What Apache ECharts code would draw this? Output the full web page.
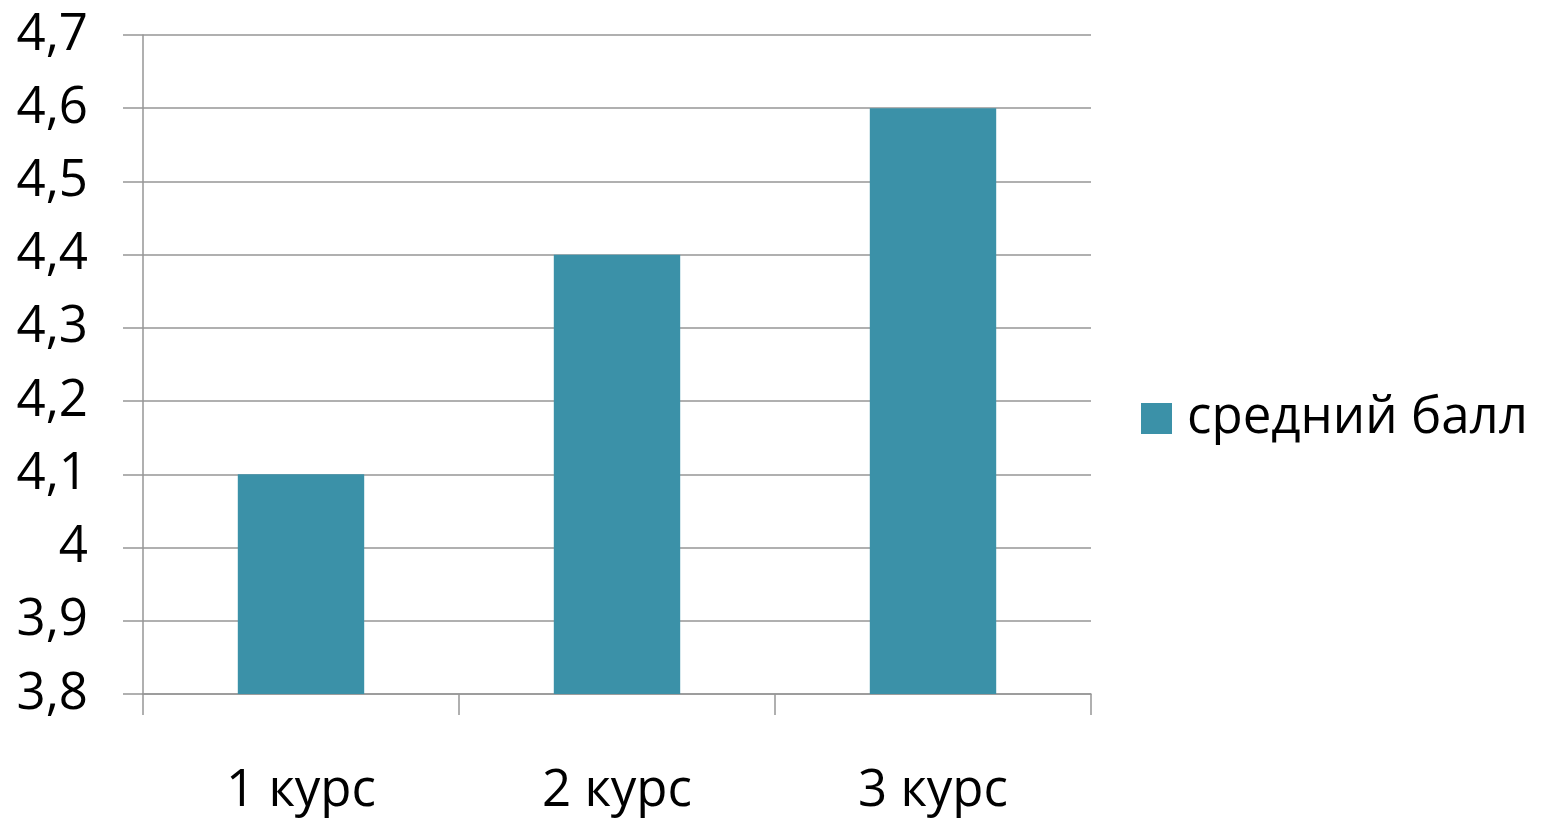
<!DOCTYPE html>
<html>
<head>
<meta charset="utf-8">
<script src="https://cdn.jsdelivr.net/npm/echarts@6/dist/echarts.min.js"></script>
<style>html,body{margin:0;padding:0;background:#fff}#c{width:1549px;height:823px}</style>
</head>
<body>
<div id="c"></div>
<script>
const categories = ['1 курс', '2 курс', '3 курс'];
const seriesName = 'средний балл';
const values = [4.1, 4.4, 4.6];
const yMin = 3.8, yMax = 4.7, yStep = 0.1;

const chart = echarts.init(document.getElementById('c'));
const lineColor = '#969696';
chart.setOption({
  animation: false,
  textStyle: { fontFamily: 'Open Sans' },
  grid: { left: 143, right: 458, top: 35, bottom: 129 },
  legend: {
    data: [seriesName],
    left: 1141, top: 393, padding: 0,
    itemWidth: 31, itemHeight: 31, itemGap: 10,
    icon: 'rect',
    textStyle: { fontSize: 51, color: '#000', fontFamily: 'Open Sans', padding: [0, 0, 0, 10] }
  },
  xAxis: {
    type: 'category',
    data: categories,
    axisLine: { show: true, lineStyle: { color: lineColor, width: 1.5 } },
    axisTick: { show: true, length: 21, lineStyle: { color: lineColor, width: 1.5 } },
    axisLabel: { fontSize: 51, color: '#000', margin: 72, fontFamily: 'Open Sans' }
  },
  yAxis: {
    type: 'value',
    min: yMin, max: yMax, interval: yStep,
    axisLine: { show: true, lineStyle: { color: lineColor, width: 1.5 } },
    axisTick: { show: true, length: 20, lineStyle: { color: lineColor, width: 1.5 } },
    splitLine: { show: true, lineStyle: { color: lineColor, width: 1.5 } },
    axisLabel: {
      fontSize: 51, color: '#000', margin: 55, fontFamily: 'Open Sans',
      formatter: v => {
        const r = Math.round(v * 10) / 10;
        return (Number.isInteger(r) ? String(r) : r.toFixed(1)).replace('.', ',');
      }
    }
  },
  series: [{
    name: seriesName,
    type: 'bar',
    data: values,
    barWidth: '40%',
    itemStyle: { color: '#3B91A8' }
  }]
});
</script>
</body>
</html>
